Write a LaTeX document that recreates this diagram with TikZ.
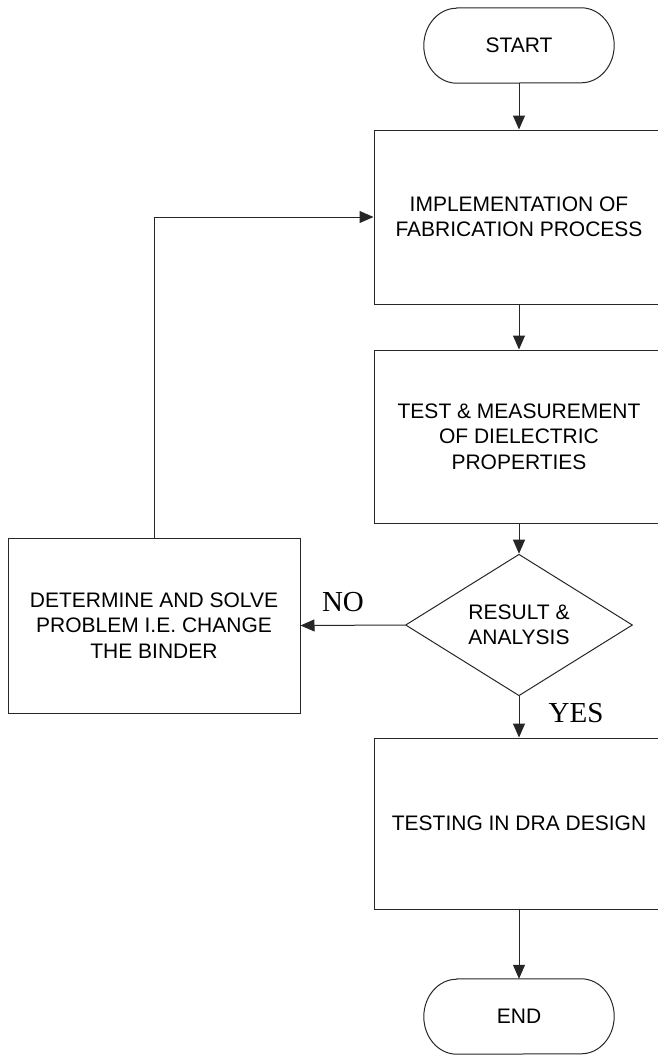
\documentclass[tikz,border=0pt]{standalone}
\usepackage{fontspec}
\setmainfont{Liberation Sans}
\newfontfamily\seriffont{Liberation Serif}
\usetikzlibrary{shapes.geometric,arrows.meta}
\newcommand\drawterm[1]{\draw[line] ([xshift=33pt]#1.north west) -- ([xshift=-33pt]#1.north east) arc[start angle=90,end angle=-90,x radius=33pt,y radius=37.5pt] -- ([xshift=33pt]#1.south west) arc[start angle=270,end angle=90,x radius=33pt,y radius=37.5pt] -- cycle;}
\begin{document}
\begin{tikzpicture}[x=1pt,y=1pt,
  line/.style={draw=black!85, line width=1pt},
  arr/.style={line, -{Triangle[length=14pt,width=12pt]}},
  txt/.style={font=\fontsize{21}{25.5}\selectfont, align=center},
  box/.style={txt, rectangle, draw=black!85, line width=1pt, minimum width=290pt, inner sep=0pt},
  term/.style={txt, rectangle, minimum width=190pt, minimum height=75pt, inner sep=0pt},
  lbl/.style={font=\seriffont\fontsize{29}{30}\selectfont, inner sep=0pt}]
\useasboundingbox (0,0) rectangle (657,-1055);

\node[term] (start) at (519,-45.5) {START};
\drawterm{start}
\node[box, minimum height=174pt] (b1) at (519,-217) {IMPLEMENTATION OF\\FABRICATION PROCESS};
\node[box, minimum height=173pt] (b2) at (519,-436.5) {TEST \& MEASUREMENT\\OF DIELECTRIC\\PROPERTIES};
\node[txt, diamond, draw=black!85, line width=1pt, minimum width=227pt, minimum height=136pt, inner sep=0pt] (dia) at (519,-625) {RESULT \&\\ANALYSIS};
\node[box, minimum width=292pt, minimum height=175pt] (lb) at (154,-625.5) {DETERMINE AND SOLVE\\PROBLEM I.E. CHANGE\\THE BINDER};
\node[box, minimum height=171pt] (b4) at (519,-823.5) {TESTING IN DRA DESIGN};
\node[term] (end) at (519,-1016.5) {END};
\drawterm{end}

\node[lbl] (no) at (343,-602) {NO};
\node[lbl] (yes) at (576,-713) {YES};

\draw[arr] (start.south) -- (b1.north);
\draw[arr] (b1.south) -- (b2.north);
\draw[arr] (b2.south) -- (dia.north);
\draw[arr] (dia.south) -- (b4.north);
\draw[arr] (b4.south) -- (end.north);
\draw[arr] (dia.west) -- (lb.east);
\draw[arr] (lb.north) |- (b1.west);
\end{tikzpicture}
\end{document}
